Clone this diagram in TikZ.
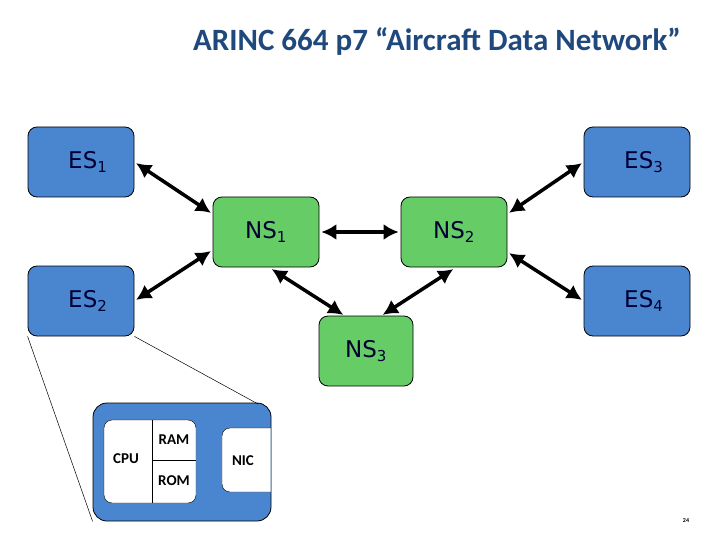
\documentclass[tikz,border=0pt]{standalone}
\usepackage{fontspec}
\setmainfont{DejaVu Sans}
\newfontfamily\carl{Carlito}
\usetikzlibrary{arrows.meta}
\definecolor{esblue}{RGB}{74,134,208}
\definecolor{nsgreen}{RGB}{102,204,102}
\definecolor{titleblue}{RGB}{31,73,125}
\newcommand{\mysub}[1]{\textsubscript{\fontsize{15}{15}\selectfont #1}}
\begin{document}
\begin{tikzpicture}[x=1pt,y=-1pt,
  box/.style={draw=black,rounded corners=9pt,line width=0.8pt,inner sep=0pt},
  es/.style={box,fill=esblue,minimum width=106pt,minimum height=70pt,font=\fontsize{23}{26}\selectfont,text=black!80!blue},
  ns/.style={box,fill=nsgreen,minimum width=106pt,minimum height=70pt,font=\fontsize{23}{26}\selectfont,text=black!80!blue},
  link/.style={line width=3.5pt,{Latex[length=15pt,width=16pt]}-{Latex[length=15pt,width=16pt]},shorten <=2pt,shorten >=2pt},
  lbl/.style={font=\carl\bfseries\fontsize{15}{17}\selectfont}]
\useasboundingbox (0,0) rectangle (720,540);
\node[font=\carl\bfseries\fontsize{31}{34}\selectfont,text=titleblue] (title) at (437,41) {ARINC 664 p7 “Aircraft Data Network”};
\node[es] (es1) at (81,162) {\phantom{x}ES\mysub{1}};
\node[es] (es3) at (637,162) {\phantom{x}ES\mysub{3}};
\node[es] (es2) at (81,301) {\phantom{x}ES\mysub{2}};
\node[es] (es4) at (637,301) {\phantom{x}ES\mysub{4}};
\node[ns] (ns1) at (266,232) {NS\mysub{1}};
\node[ns] (ns2) at (454,232) {NS\mysub{2}};
\node[ns,minimum width=94pt] (ns3) at (366,351) {NS\mysub{3}};
\draw[link] (es1.east) -- (ns1.west |- 0,214);
\draw[link] (es2.east) -- (ns1.west |- 0,250);
\draw[link] (ns1.east) -- (ns2.west);
\draw[link] (ns2.east |- 0,214) -- (es3.west);
\draw[link] (ns2.east |- 0,252) -- (es4.west);
\draw[link] (270,268) -- (345,316);
\draw[link] (455,268) -- (381,316);
% detail
\node[box,fill=esblue,minimum width=178pt,minimum height=118pt,rounded corners=14pt] (det) at (182,462) {};
\draw[line width=0.5pt] (es2.south west) -- (det.south west);
\draw[line width=0.5pt] (es2.south east) -- (258,404);
\node[box,fill=white,minimum width=92pt,minimum height=83pt,rounded corners=8pt,line width=0.4pt] (proc) at (150,461.5) {};
\draw[line width=0.5pt] (152,420) -- (152,503);
\draw[line width=0.5pt] (152,460) -- (196,460);
\node[lbl] (cpu) at (126,459) {CPU};
\node[lbl] (ram) at (174,440) {RAM};
\node[lbl] (rom) at (174,481) {ROM};
\begin{scope}
\clip (222,420) rectangle (270.6,500);
\node[box,fill=white,minimum width=60pt,minimum height=64pt,rounded corners=8pt,line width=0.4pt] (nicbox) at (252,460) {};
\end{scope}
\node[lbl] (nic) at (243,461) {NIC};
\node[font=\carl\bfseries\fontsize{6}{7}\selectfont] (pg) at (686,521) {24};
\end{tikzpicture}
\end{document}
